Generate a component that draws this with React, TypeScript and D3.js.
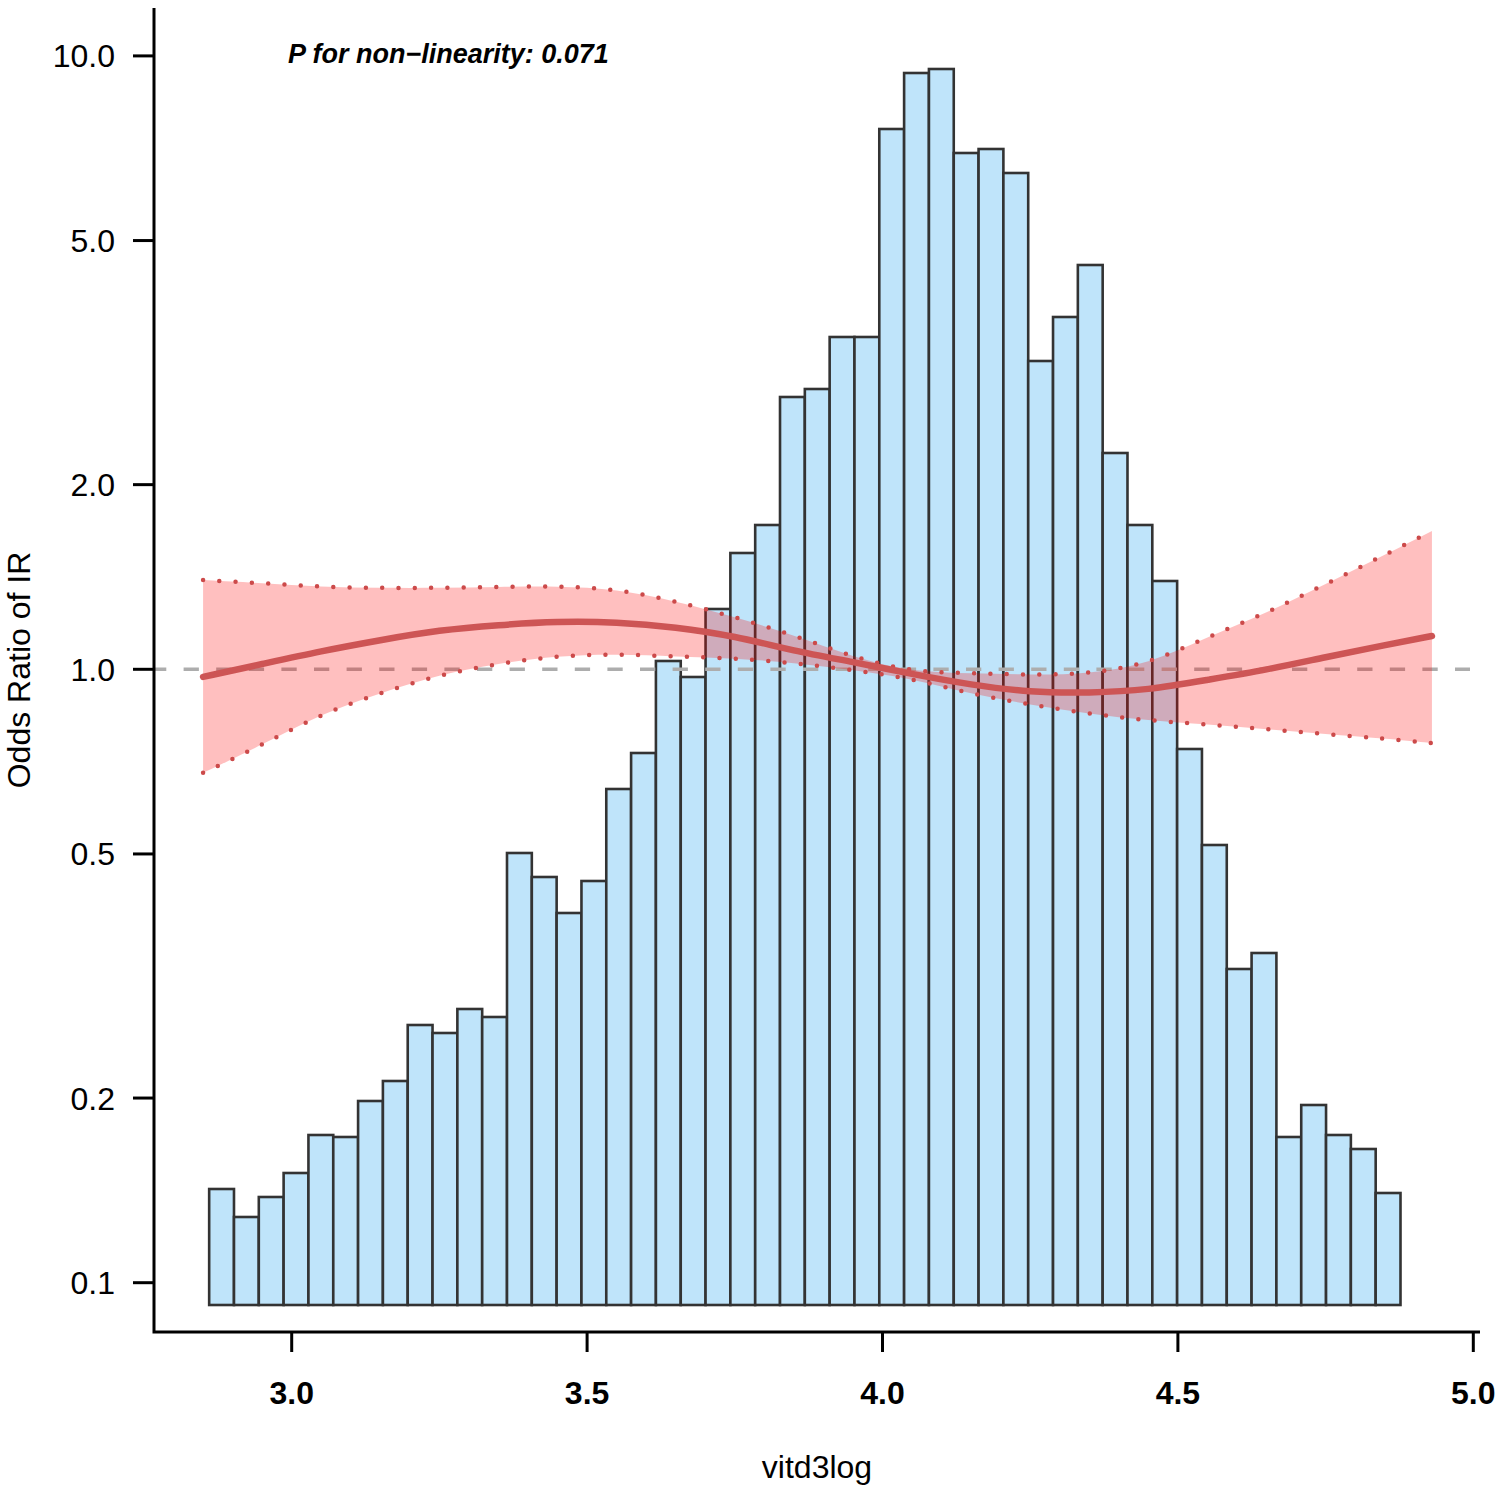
import { useEffect, useRef } from 'react'
import * as d3 from 'd3'

// histogram of vitd3log (relative counts per bin)
const binStart = 2.8603
const binWidth = 0.04201
const binCounts = [
  29, 22, 27, 33, 42.5, 42, 51, 56, 70, 68, 74, 72,
  113, 107, 98, 106, 129, 138, 161, 157, 174, 188, 195, 227,
  229, 242, 242, 294, 308, 309, 288, 289, 283, 236, 247, 260,
  213, 195, 181, 139, 115, 84, 88, 42, 50, 42.5, 39, 28,
]

// restricted cubic spline fit: odds ratio with 95% CI
const splineX = [2.85, 2.95, 3.05, 3.15, 3.25, 3.35, 3.45, 3.55, 3.65, 3.75, 3.85, 3.95, 4.05, 4.15, 4.25, 4.35, 4.45, 4.55, 4.65, 4.75, 4.85, 4.93]
const orFit = [0.972, 1.02, 1.071, 1.116, 1.159, 1.181, 1.197, 1.194, 1.172, 1.133, 1.071, 1.028, 0.982, 0.943, 0.917, 0.915, 0.925, 0.961, 0.998, 1.047, 1.095, 1.133]
const orUpper = [1.398, 1.382, 1.362, 1.357, 1.357, 1.362, 1.367, 1.352, 1.292, 1.217, 1.137, 1.047, 0.99, 0.986, 0.979, 0.983, 1.02, 1.129, 1.235, 1.377, 1.536, 1.681]
const orLower = [0.678, 0.753, 0.846, 0.915, 0.98, 1.022, 1.052, 1.059, 1.049, 1.043, 1.024, 0.997, 0.966, 0.911, 0.876, 0.846, 0.825, 0.813, 0.799, 0.784, 0.771, 0.758]

const xTicks = [3.0, 3.5, 4.0, 4.5, 5.0]
const yTicks = [0.1, 0.2, 0.5, 1.0, 2.0, 5.0, 10.0]
const pText = 'P for non\u2212linearity: 0.071'

const W = 1498
const H = 1490
const FONT = 'Liberation Sans, Arial, sans-serif'

export default function App() {
  const ref = useRef<SVGSVGElement>(null)

  useEffect(() => {
    if (!ref.current) return
    const svg = d3.select(ref.current)
    svg.selectAll('*').remove()

    const plot = { left: 154, right: 1480, top: 8, bottom: 1332 }

    const x = d3.scaleLinear().domain([3, 5]).range([291.7, 1473.3])
    const y = d3.scaleLog().domain([0.1, 10]).range([1282.7, 55.9])
    // separate scale for the histogram heights
    const yCount = d3.scaleLinear().domain([0, 325]).range([1305, 5])

    svg.append('rect').attr('width', W).attr('height', H).attr('fill', '#fff')

    // histogram
    svg.append('g')
      .selectAll('rect')
      .data(binCounts)
      .enter().append('rect')
      .attr('x', (_, i) => x(binStart + i * binWidth))
      .attr('width', (_, i) => x(binStart + (i + 1) * binWidth) - x(binStart + i * binWidth))
      .attr('y', d => yCount(d))
      .attr('height', d => yCount(0) - yCount(d))
      .attr('fill', '#BFE4FA')
      .attr('stroke', '#333333')
      .attr('stroke-width', 2.6)

    // reference line at OR = 1
    svg.append('line')
      .attr('x1', plot.left)
      .attr('x2', plot.right - 10)
      .attr('y1', y(1))
      .attr('y2', y(1))
      .attr('stroke', '#ADADAD')
      .attr('stroke-width', 3.5)
      .attr('stroke-dasharray', '15.3 17.3')
      .attr('stroke-dashoffset', 3)

    const pts = splineX.map((v, i) => ({ x: v, fit: orFit[i], lo: orLower[i], hi: orUpper[i] }))

    // CI band
    const area = d3.area<any>()
      .x(d => x(d.x))
      .y0(d => y(d.lo))
      .y1(d => y(d.hi))
      .curve(d3.curveBasis)

    svg.append('path')
      .datum(pts)
      .attr('fill', 'rgba(255,0,0,0.25)')
      .attr('d', area)

    const boundLine = (key: 'lo' | 'hi') => d3.line<any>()
      .x(d => x(d.x))
      .y(d => y(d[key]))
      .curve(d3.curveBasis)

    ;(['hi', 'lo'] as const).forEach(k => {
      svg.append('path')
        .datum(pts)
        .attr('fill', 'none')
        .attr('stroke', '#CC4A4A')
        .attr('stroke-width', 4.5)
        .attr('stroke-linecap', 'round')
        .attr('stroke-dasharray', '0 16.3')
        .attr('d', boundLine(k))
    })

    // fitted curve
    svg.append('path')
      .datum(pts)
      .attr('fill', 'none')
      .attr('stroke', '#CD5555')
      .attr('stroke-width', 6.5)
      .attr('stroke-linecap', 'round')
      .attr('d', d3.line<any>().x(d => x(d.x)).y(d => y(d.fit)).curve(d3.curveBasis))

    // L-shaped box
    svg.append('path')
      .attr('d', `M${plot.left},${plot.top}V${plot.bottom}H${plot.right}`)
      .attr('fill', 'none')
      .attr('stroke', '#000')
      .attr('stroke-width', 3)

    // x axis ticks
    const gx = svg.append('g')
    xTicks.forEach(t => {
      gx.append('line')
        .attr('x1', x(t)).attr('x2', x(t))
        .attr('y1', plot.bottom).attr('y2', plot.bottom + 20)
        .attr('stroke', '#000').attr('stroke-width', 3)
      gx.append('text')
        .attr('x', x(t))
        .attr('y', 1404)
        .attr('text-anchor', 'middle')
        .attr('font-family', FONT)
        .attr('font-size', 32)
        .attr('font-weight', 'bold')
        .attr('fill', '#000')
        .text(d3.format('.1f')(t))
    })

    // y axis ticks
    const gy = svg.append('g')
    yTicks.forEach(t => {
      gy.append('line')
        .attr('x1', plot.left - 21).attr('x2', plot.left)
        .attr('y1', y(t)).attr('y2', y(t))
        .attr('stroke', '#000').attr('stroke-width', 3)
      gy.append('text')
        .attr('x', 115)
        .attr('y', y(t))
        .attr('dy', '0.36em')
        .attr('text-anchor', 'end')
        .attr('font-family', FONT)
        .attr('font-size', 32)
        .attr('fill', '#000')
        .text(d3.format('.1f')(t))
    })

    // axis titles
    svg.append('text')
      .attr('x', (plot.left + plot.right) / 2)
      .attr('y', 1478)
      .attr('text-anchor', 'middle')
      .attr('font-family', FONT)
      .attr('font-size', 32)
      .text('vitd3log')

    svg.append('text')
      .attr('transform', `translate(30,${(plot.top + plot.bottom) / 2}) rotate(-90)`)
      .attr('text-anchor', 'middle')
      .attr('font-family', FONT)
      .attr('font-size', 32)
      .text('Odds Ratio of IR')

    svg.append('text')
      .attr('x', 288)
      .attr('y', 63)
      .attr('font-family', FONT)
      .attr('font-size', 27)
      .attr('font-weight', 'bold')
      .attr('font-style', 'italic')
      .text(pText)
  }, [])

  return (
    <svg
      ref={ref}
      width={W}
      height={H}
      style={{ position: 'absolute', left: 0, top: 0 }}
    />
  )
}
